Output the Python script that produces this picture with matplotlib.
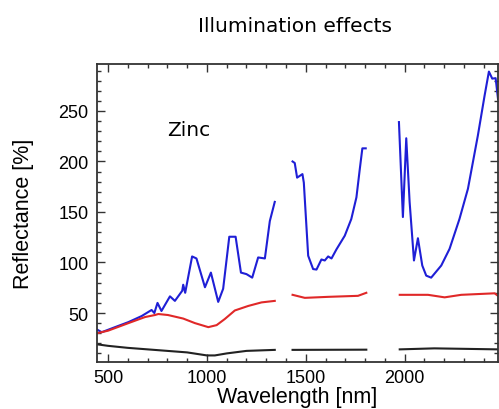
import matplotlib
matplotlib.use("Agg")
import matplotlib.pyplot as plt
import numpy as np
from matplotlib.ticker import MultipleLocator

# Blue (three segments)
blue1_w = [445, 468, 535, 603, 670, 720, 734, 750, 770, 813, 838, 875, 880, 890, 925, 947, 990, 1020, 1057, 1082, 1113, 1145, 1172, 1200, 1229, 1259, 1293, 1318, 1343]
blue1_v = [33.5, 31, 36, 41, 47, 53, 50, 60, 52, 66.5, 62, 72, 78, 70, 106, 104, 75.5, 90, 61, 74, 125.5, 125.5, 90, 88.5, 85, 105, 104, 141, 160]
blue2_w = [1433, 1444, 1456, 1483, 1490, 1512, 1537, 1554, 1579, 1596, 1613, 1630, 1655, 1697, 1730, 1756, 1773, 1786, 1803]
blue2_v = [200, 198.5, 184, 187.5, 179, 106.7, 93.5, 93, 103, 102, 106, 104, 113, 126.5, 143, 164.5, 192.5, 213, 213]
blue3_w = [1971, 1991, 2008, 2025, 2047, 2067, 2089, 2109, 2134, 2185, 2227, 2277, 2320, 2370, 2404, 2426, 2443, 2460, 2472]
blue3_v = [239, 145, 223, 160, 102, 124, 97, 87, 85, 97, 113.5, 143, 173, 225.5, 265, 289, 282, 282.5, 262]

# Red (three segments)
red1_w = [445, 500, 603, 687, 737, 754, 803, 880, 939, 1007, 1049, 1090, 1141, 1209, 1276, 1343]
red1_v = [30, 32.5, 40, 46, 48, 49, 48, 44.5, 40, 36, 38, 44, 52.5, 57, 60.5, 62]
red2_w = [1433, 1495, 1613, 1764, 1806]
red2_v = [68, 65, 66, 67, 70]
red3_w = [1975, 2118, 2202, 2286, 2455, 2472]
red3_v = [68, 68, 65.5, 68, 69.5, 67]

# Black (three segments)
black1_w = [445, 500, 600, 700, 800, 900, 1000, 1040, 1100, 1200, 1343]
black1_v = [19, 17.5, 15.5, 14, 12.5, 11, 8, 8, 10, 12.5, 13.5]
black2_w = [1433, 1806]
black2_v = [13.5, 13.7]
black3_w = [1975, 2150, 2472]
black3_v = [14, 15, 14]

xticks = [500, 1000, 1500, 2000]
yticks = [50, 100, 150, 200, 250]

fig = plt.figure(figsize=(4.99, 4.10), dpi=100)
ax = fig.add_axes([97/499, 47/410, 401/499, 298/410])

blue = "#1f1fd6"
red = "#e02828"
for w, v in [(blue1_w, blue1_v), (blue2_w, blue2_v), (blue3_w, blue3_v)]:
    ax.plot(w, v, color=blue, lw=1.5)
for w, v in [(red1_w, red1_v), (red2_w, red2_v), (red3_w, red3_v)]:
    ax.plot(w, v, color=red, lw=1.5)
for w, v in [(black1_w, black1_v), (black2_w, black2_v), (black3_w, black3_v)]:
    ax.plot(w, v, color="#222222", lw=1.5)

ax.set_xlim(444, 2472)
ax.set_ylim(1.5, 296.5)
ax.set_xticks(xticks)
ax.set_yticks(yticks)
ax.xaxis.set_minor_locator(MultipleLocator(100))
ax.yaxis.set_minor_locator(MultipleLocator(10))
ax.tick_params(which="both", direction="in", top=True, right=True, width=1.0, color="#333333")
ax.tick_params(which="major", length=6)
ax.tick_params(which="minor", length=3)
for lab in ax.get_xticklabels() + ax.get_yticklabels():
    lab.set_fontfamily("Liberation Sans")
    lab.set_fontsize(13)
ax.tick_params(axis="x", pad=5)
ax.tick_params(axis="y", pad=6)
for s in ax.spines.values():
    s.set_linewidth(1.3)
    s.set_color("#333333")

fig.text(167/499, 1 - 136/410, "Zinc", ha="left", va="baseline", fontsize=14.5, family="DejaVu Sans")
fig.text(295/499, 1 - 32/410, "Illumination effects", ha="center", va="baseline", fontsize=14.5, family="DejaVu Sans")
fig.text(297/499, 1 - 403/410, "Wavelength [nm]", ha="center", va="baseline", fontsize=15.5, family="Liberation Sans")
fig.text(24/499, 1 - 214/410, "Reflectance [%]", ha="center", va="center", rotation=90, fontsize=15.5, family="Liberation Sans")

fig.savefig("out.png", dpi=100)
